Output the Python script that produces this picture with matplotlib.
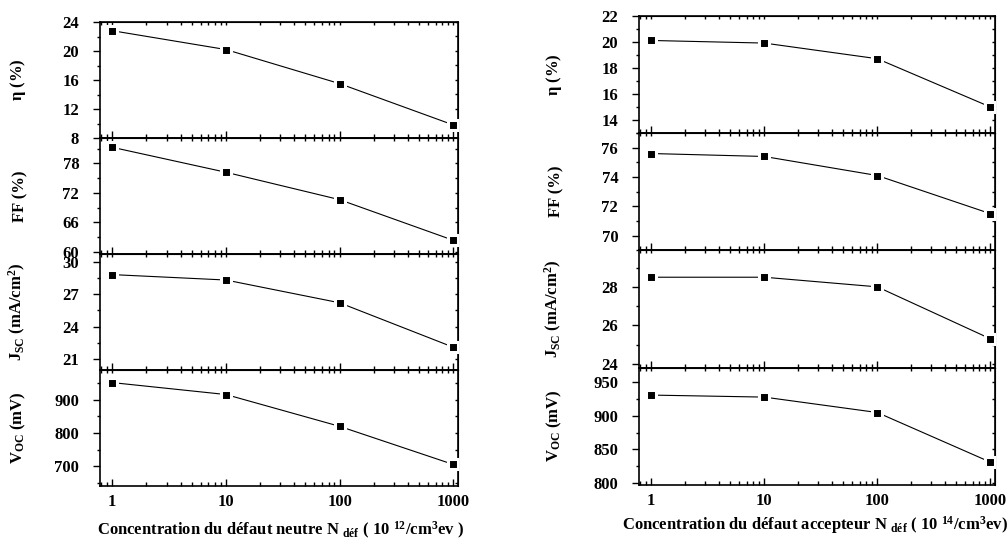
import numpy as np
import matplotlib
matplotlib.use('Agg')
import matplotlib.pyplot as plt
from matplotlib.ticker import MultipleLocator, FixedLocator, NullFormatter

plt.rcParams['font.family'] = 'Liberation Serif'
plt.rcParams['font.weight'] = 'bold'
plt.rcParams['mathtext.fontset'] = 'custom'
plt.rcParams['mathtext.rm'] = 'Liberation Serif:bold'
plt.rcParams['mathtext.it'] = 'Liberation Serif:bold:italic'
plt.rcParams['mathtext.bf'] = 'Liberation Serif:bold'

# concentration des defauts (unite relative)
conc = [1, 10, 100, 1000]

# defaut neutre (x 1e12 /cm3 eV)
eta_neutre = [22.8, 20.2, 15.5, 9.8]
ff_neutre = [81.3, 76.2, 70.6, 62.3]
jsc_neutre = [28.8, 28.3, 26.2, 22.1]
voc_neutre = [952, 916, 820, 705]

# defaut accepteur (x 1e14 /cm3 eV)
eta_acc = [20.1, 19.9, 18.7, 15.0]
ff_acc = [75.6, 75.4, 74.1, 71.5]
jsc_acc = [28.5, 28.5, 28.0, 25.3]
voc_acc = [931, 928, 905, 831]

ylabels = [r'$\mathrm{\eta}$ (%)', 'FF (%)',
           r'J$_{\mathrm{SC}}$ (mA/cm$^{\mathrm{2}}$)',
           r'V$_{\mathrm{OC}}$ (mV)']

fig = plt.figure(figsize=(10.08, 5.45), dpi=100)


def panneau(rect, y, ylim, major, minor, ylabel, bas):
    ax = fig.add_axes(rect)
    ax.set_xscale('log')
    ax.set_xlim(0.78, 1100)
    ax.set_ylim(*ylim)
    ax.plot(conc, y, color='black', lw=0.8, zorder=2)
    ax.plot(conc, y, ls='none', marker='s', ms=7.2, mfc='black',
            mec='white', mew=2.2, zorder=3)
    ax.yaxis.set_major_locator(MultipleLocator(major))
    ax.yaxis.set_minor_locator(MultipleLocator(minor))
    ax.xaxis.set_major_locator(FixedLocator(conc))
    for s in ax.spines.values():
        s.set_linewidth(1.2)
    ax.tick_params(axis='y', which='major', direction='out', length=5,
                   width=1, pad=10, labelsize=12)
    ax.tick_params(axis='y', which='minor', direction='out', length=2.5, width=1)
    ax.tick_params(axis='x', which='major', direction='in', length=5,
                   width=1, pad=6, labelsize=12)
    ax.tick_params(axis='x', which='minor', direction='in', length=3, width=1)
    if bas:
        ax.set_xticklabels(['1', '10', '100', '1000'])
    else:
        ax.set_xticklabels([])
    ax.xaxis.set_minor_formatter(NullFormatter())
    # petits ticks internes sur les axes droit et haut
    droite = ax.secondary_yaxis('right')
    droite.yaxis.set_major_locator(MultipleLocator(major))
    droite.yaxis.set_minor_locator(MultipleLocator(minor))
    droite.tick_params(which='both', direction='in', length=2.5, width=1,
                       labelright=False)
    haut = ax.secondary_xaxis('top')
    haut.xaxis.set_major_locator(FixedLocator(conc))
    haut.tick_params(which='both', direction='in', length=2, width=1,
                     labeltop=False)
    haut.xaxis.set_minor_formatter(NullFormatter())
    ax.set_ylabel(ylabel, fontsize=12, fontweight='bold')
    ax.yaxis.set_label_coords(-0.2, 0.5)
    return ax


# colonne de gauche : defaut neutre
g_left, g_w = 100 / 1008, 358 / 1008
g_top, g_h = 1 - 22 / 545, 116 / 545
limites_g = [(8, 24), (59.5, 83.2), (20, 30.7), (640, 990)]
pas_g = [(4, 2), (6, 3), (3, 1.5), (100, 50)]
data_g = [eta_neutre, ff_neutre, jsc_neutre, voc_neutre]
for i in range(4):
    rect = [g_left, g_top - (i + 1) * g_h, g_w, g_h]
    panneau(rect, data_g[i], limites_g[i], pas_g[i][0], pas_g[i][1],
            ylabels[i], i == 3)

# colonne de droite : defaut accepteur
d_left, d_w = 639 / 1008, 356 / 1008
d_top, d_h = 1 - 15.7 / 545, 117.3 / 545
limites_d = [(13, 22), (69, 77), (23.8, 29.9), (797, 972)]
pas_d = [(2, 1), (2, 1), (2, 1), (50, 25)]
data_d = [eta_acc, ff_acc, jsc_acc, voc_acc]
for i in range(4):
    rect = [d_left, d_top - (i + 1) * d_h, d_w, d_h]
    ax = panneau(rect, data_d[i], limites_d[i], pas_d[i][0], pas_d[i][1],
                 ylabels[i], i == 3)
    ax.yaxis.set_label_coords(-0.21, 0.5)

fig.text(280 / 1008, 1 - 530 / 545,
         r'Concentration du défaut neutre N $_{\mathrm{déf}}$ ( 10 $^{\mathrm{12}}$/cm$^{\mathrm{3}}$ev )',
         ha='center', va='center', fontsize=12, fontweight='bold')
fig.text(815 / 1008, 1 - 525 / 545,
         r'Concentration du défaut accepteur N $_{\mathrm{déf}}$ ( 10 $^{\mathrm{14}}$/cm$^{\mathrm{3}}$ev)',
         ha='center', va='center', fontsize=12, fontweight='bold')

fig.savefig('out.png', dpi=100)
